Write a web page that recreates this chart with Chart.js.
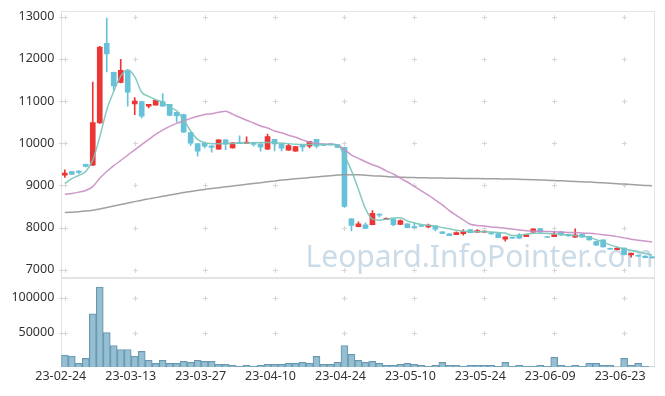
<!DOCTYPE html>
<html>
<head>
<meta charset="utf-8">
<script src="https://cdn.jsdelivr.net/npm/chart.js@4/dist/chart.umd.min.js"></script>
<style>
  html, body { margin: 0; padding: 0; background: #fff; }
  #wrap { width: 665px; height: 396px; }
</style>
</head>
<body>
<div id="wrap"><canvas id="stockChart" width="665" height="396"></canvas></div>
<script>
// trading days
const dates = ["23-02-24","23-02-27","23-02-28","23-03-02","23-03-03","23-03-06","23-03-07","23-03-08","23-03-09","23-03-10",
  "23-03-13","23-03-14","23-03-15","23-03-16","23-03-17","23-03-20","23-03-21","23-03-22","23-03-23","23-03-24",
  "23-03-27","23-03-28","23-03-29","23-03-30","23-03-31","23-04-03","23-04-04","23-04-05","23-04-06","23-04-07",
  "23-04-10","23-04-11","23-04-12","23-04-13","23-04-14","23-04-17","23-04-18","23-04-19","23-04-20","23-04-21",
  "23-04-24","23-04-25","23-04-26","23-04-27","23-04-28","23-05-02","23-05-03","23-05-04","23-05-08","23-05-09",
  "23-05-10","23-05-11","23-05-12","23-05-15","23-05-16","23-05-17","23-05-18","23-05-19","23-05-22","23-05-23",
  "23-05-24","23-05-25","23-05-26","23-05-30","23-05-31","23-06-01","23-06-02","23-06-05","23-06-07","23-06-08",
  "23-06-09","23-06-12","23-06-13","23-06-14","23-06-15","23-06-16","23-06-19","23-06-20","23-06-21","23-06-22",
  "23-06-23","23-06-26","23-06-27","23-06-28","23-06-29"];

const opens = [9240,9330,9340,9500,9480,10480,12370,11680,11440,11710,
  10930,10990,10880,10905,10990,10920,10730,10680,10255,9990,
  10000,9940,9860,10080,9890,10015,9995,10000,9985,9860,
  10090,9985,9835,9810,9960,9930,10090,9975,9985,9970,
  9900,8205,8020,8065,8070,8320,8195,8200,8072,8090,
  8025,8048,8017,8040,7898,7850,7833,7857,7950,7890,
  7890,7874,7857,7722,7762,7819,7786,7890,7976,7778,
  7786,7898,7842,7770,7842,7794,7667,7706,7508,7476,
  7516,7350,7343,7326,7300];
const highs = [9370,9335,9350,9505,11450,12300,12970,11690,11990,11720,
  11080,11000,10925,11020,11180,10925,10735,10690,10260,9995,
  10005,9945,10085,10085,10015,10175,10150,10025,9990,10215,
  10095,9990,9975,9925,9965,10045,10095,9980,9990,9975,
  9905,8210,8135,8110,8400,8325,8230,8205,8183,8095,
  8120,8052,8080,8045,7902,7855,7900,7950,7955,7950,
  7918,7885,7862,7782,7766,7857,7830,7972,7980,7782,
  7905,7902,7846,7969,7846,7798,7671,7710,7512,7520,
  7520,7394,7347,7330,7310];
const lows = [9190,9255,9270,9440,9470,10470,11690,11250,11430,10880,
  10680,10600,10840,10900,10875,10650,10500,10255,9945,9690,
  9890,9790,9855,9845,9885,9990,9990,9930,9810,9855,
  9820,9820,9830,9805,9810,9890,9890,9940,9955,9895,
  8475,7920,8015,7975,8065,8250,8190,8040,8068,7990,
  7995,8020,7990,7920,7855,7805,7830,7820,7878,7886,
  7886,7845,7758,7676,7745,7745,7782,7886,7886,7760,
  7782,7815,7798,7766,7766,7702,7577,7536,7480,7472,
  7353,7295,7316,7282,7275];
const closes = [9290,9260,9310,9450,10490,12280,12120,11360,11730,11210,
  11000,10640,10920,11015,10880,10660,10645,10260,10000,9810,
  9930,9900,10080,9985,10010,9995,10025,9970,9905,10160,
  9985,9880,9945,9920,9905,10040,9930,9945,9960,9900,
  8500,8050,8090,7980,8335,8295,8215,8070,8167,7995,
  8000,8025,8057,7960,7860,7810,7881,7905,7880,7930,
  7913,7850,7762,7778,7750,7750,7826,7969,7890,7765,
  7833,7819,7802,7826,7770,7706,7581,7540,7485,7516,
  7357,7390,7320,7286,7280];

const volumes = [17600,16100,5700,12900,77100,115700,50000,31400,25700,25700,
  16100,22900,10000,5700,10000,5700,5700,8600,7100,10000,
  8600,8600,4300,4300,2900,1400,2900,1400,2900,4300,
  4300,4300,5700,5700,7100,5700,15700,4300,4300,7100,
  31400,18600,10000,7100,8600,5700,2900,2900,4300,5700,
  4300,2900,1400,2900,7100,2900,2900,1400,2900,2900,
  2900,2900,1400,7100,1400,2900,1400,1400,2900,1400,
  14300,2900,1400,2900,1400,5700,5700,2900,2900,600,
  12900,2900,5700,1400,400];

// moving averages as drawn on the picture
const ma5 = [9045,9160,9235,9330,9600,10150,10790,11230,11590,11745,
  11580,11210,11110,11030,10970,10850,10770,10560,10290,10090,
  10010,9990,9985,9990,9995,10000,10005,10010,10015,10020,
  10010,10005,9990,9975,9970,9970,9970,9970,9970,9965,
  9700,9350,8900,8450,8200,8175,8200,8225,8235,8155,
  8110,8075,8055,8030,8000,7970,7935,7915,7900,7898,
  7898,7895,7882,7870,7810,7818,7840,7865,7865,7860,
  7850,7840,7825,7810,7795,7770,7710,7650,7590,7540,
  7495,7460,7425,7385,7345];
const ma20 = [8790,8810,8840,8880,8970,9170,9330,9470,9590,9720,
  9840,9965,10090,10210,10310,10400,10470,10530,10590,10640,
  10680,10700,10735,10758,10690,10615,10545,10480,10410,10360,
  10290,10250,10190,10140,10080,10025,9995,9980,9975,9960,
  9850,9720,9640,9560,9490,9430,9340,9270,9170,9080,
  8975,8870,8770,8650,8540,8400,8290,8180,8080,8050,
  8035,8015,8000,7985,7965,7940,7925,7915,7910,7905,
  7900,7892,7885,7880,7870,7862,7850,7830,7810,7785,
  7755,7725,7700,7680,7660];
const ma60 = [8355,8365,8375,8390,8410,8440,8475,8510,8545,8580,
  8615,8650,8680,8710,8740,8770,8800,8830,8855,8880,
  8905,8925,8945,8965,8985,9005,9025,9045,9065,9085,
  9105,9125,9140,9155,9170,9185,9200,9215,9230,9245,
  9255,9255,9250,9240,9230,9220,9210,9200,9195,9190,
  9185,9180,9178,9175,9173,9170,9168,9166,9164,9162,
  9160,9158,9155,9152,9150,9145,9140,9135,9130,9122,
  9115,9108,9100,9092,9085,9078,9070,9060,9050,9040,
  9030,9020,9010,9000,8990];

const priceTicks = [7000, 8000, 9000, 10000, 11000, 12000, 13000];
const volumeTicks = [50000, 100000];

const upColor = '#ec3636';
const downColor = '#67c2d9';
const candleColors = opens.map((o, i) => closes[i] >= o ? upColor : downColor);

Chart.defaults.font.family = '"Noto Sans", sans-serif';
Chart.defaults.font.size = 12.5;
Chart.defaults.color = '#333';

// panel frames, "+" marks at grid crossings, watermark
const decor = {
  id: 'decor',
  beforeDatasetsDraw(chart) {
    const ctx = chart.ctx;
    const x = chart.scales.x, y = chart.scales.y, yv = chart.scales.yv;
    const l = chart.chartArea.left, r = chart.chartArea.right;
    ctx.save();
    ctx.font = '30px "Noto Sans", sans-serif';
    ctx.fillStyle = 'rgba(160,192,214,0.55)';
    ctx.textAlign = 'right';
    ctx.textBaseline = 'alphabetic';
    ctx.fillText('Leopard.InfoPointer.com', r - 2, y.bottom - 11);

    ctx.strokeStyle = '#e4e4e4';
    ctx.lineWidth = 1;
    ctx.strokeRect(Math.round(l) + 0.5, Math.round(y.top) + 0.5, Math.round(r - l) - 1, Math.round(y.bottom - y.top) - 1);
    ctx.strokeRect(Math.round(l) + 0.5, Math.round(yv.top) + 0.5, Math.round(r - l) - 1, Math.round(yv.bottom - yv.top) - 1);

    ctx.strokeStyle = '#d6d6d6';
    const xs = [];
    for (let i = 0; i < dates.length; i += 10) xs.push(Math.round(x.getPixelForValue(i)) + 0.5);
    const cross = (px, py) => {
      ctx.beginPath();
      ctx.moveTo(px - 2.5, py); ctx.lineTo(px + 2.5, py);
      ctx.moveTo(px, py - 2.5); ctx.lineTo(px, py + 2.5);
      ctx.stroke();
    };
    const rows = priceTicks.map(v => y.getPixelForValue(v)).concat(volumeTicks.map(v => yv.getPixelForValue(v)));
    rows.forEach(p => {
      const py = Math.round(p) + 0.5;
      xs.forEach(px => cross(px, py));
      cross(Math.round(l) + 0.5, py);
    });
    ctx.restore();
  }
};

new Chart(document.getElementById('stockChart'), {
  data: {
    labels: dates,
    datasets: [
      { type: 'line', label: 'MA5', yAxisID: 'y', data: ma5, borderColor: 'rgba(120,196,186,0.9)', borderWidth: 1.5, pointRadius: 0, cubicInterpolationMode: 'monotone', order: 0 },
      { type: 'line', label: 'MA20', yAxisID: 'y', data: ma20, borderColor: 'rgba(200,140,195,0.9)', borderWidth: 1.5, pointRadius: 0, cubicInterpolationMode: 'monotone', order: 0 },
      { type: 'line', label: 'MA60', yAxisID: 'y', data: ma60, borderColor: 'rgba(150,150,150,0.9)', borderWidth: 1.5, pointRadius: 0, cubicInterpolationMode: 'monotone', order: 0 },
      { type: 'bar', label: 'body', yAxisID: 'y', data: opens.map((o, i) => [o, closes[i]]), backgroundColor: candleColors, barThickness: 5, minBarLength: 1, grouped: false, order: 1 },
      { type: 'bar', label: 'wick', yAxisID: 'y', data: lows.map((lo, i) => [lo, highs[i]]), backgroundColor: candleColors, barThickness: 1, grouped: false, order: 2 },
      { type: 'bar', label: 'volume', yAxisID: 'yv', data: volumes, backgroundColor: 'rgba(140,184,205,0.9)', borderColor: '#6798b0', borderWidth: 1, barPercentage: 1, categoryPercentage: 1, grouped: false, order: 3 }
    ]
  },
  options: {
    responsive: false,
    animation: false,
    devicePixelRatio: 1,
    layout: { padding: { top: 10.7, right: 9.4, left: 0, bottom: 0 } },
    plugins: { legend: { display: false }, tooltip: { enabled: false } },
    scales: {
      x: {
        type: 'category',
        offset: true,
        grid: { display: false, drawTicks: false },
        border: { display: false },
        ticks: {
          autoSkip: false, maxRotation: 0, padding: 2, labelOffset: -4,
          callback: (v, i) => i % 10 === 0 ? dates[i] : ''
        },
        afterFit: s => { s.height = 28.7; }
      },
      yv: {
        type: 'linear', position: 'left', stack: 'panels', stackWeight: 1,
        min: 0, max: 128500,
        grid: { display: false, drawTicks: false },
        border: { display: false },
        ticks: { padding: 7, autoSkip: false, callback: v => String(v) },
        afterBuildTicks: s => { s.ticks = volumeTicks.map(v => ({ value: v })); },
        afterFit: s => { s.width = 61.3; s.paddingTop = 0; s.paddingBottom = 0; }
      },
      y: {
        type: 'linear', position: 'left', stack: 'panels', stackWeight: 3,
        min: 6800, max: 13143,
        grid: { display: false, drawTicks: false },
        border: { display: false },
        ticks: { padding: 7, autoSkip: false, callback: v => String(v) },
        afterBuildTicks: s => { s.ticks = priceTicks.map(v => ({ value: v })); },
        afterFit: s => { s.width = 61.3; s.paddingTop = 0; s.paddingBottom = 0; }
      }
    }
  },
  plugins: [decor]
});
</script>
</body>
</html>
